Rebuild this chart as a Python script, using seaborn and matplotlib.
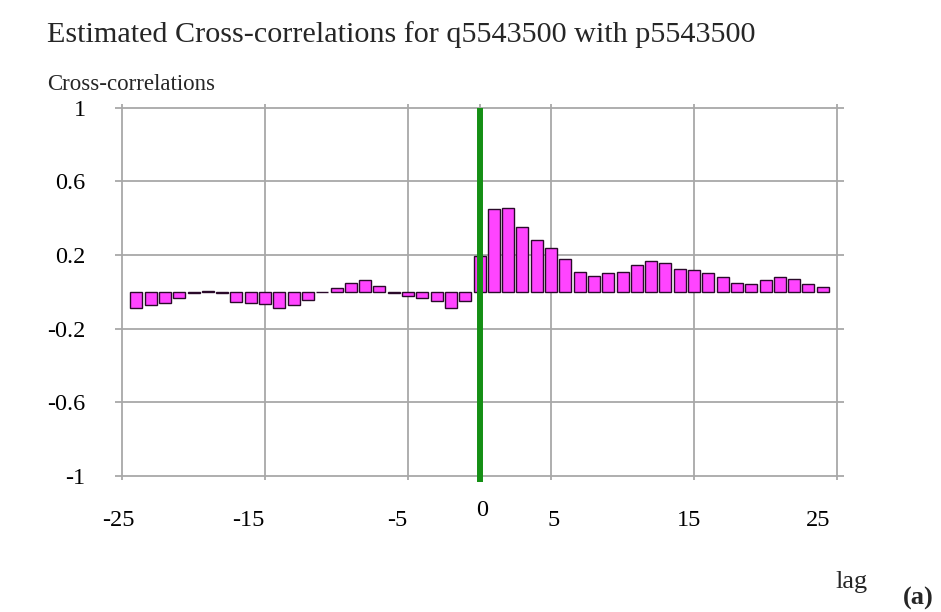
import numpy as np
import matplotlib
matplotlib.use("Agg")
import matplotlib.pyplot as plt
import matplotlib.transforms as mtransforms
import seaborn as sns

# Cross-correlation estimates by lag
lags = list(range(-24, 25))
ccf_negative = [-0.088, -0.072, -0.061, -0.035, -0.008, 0.005, -0.005, -0.054,
                -0.061, -0.068, -0.085, -0.072, -0.043, 0.0, 0.02, 0.046,
                0.062, 0.031, -0.005, -0.023, -0.035, -0.052, -0.088, -0.052]
ccf_positive = [0.193, 0.45, 0.458, 0.35, 0.28, 0.24, 0.18, 0.11, 0.087, 0.10,
                0.11, 0.147, 0.17, 0.155, 0.123, 0.118, 0.105, 0.08, 0.05,
                0.045, 0.063, 0.08, 0.069, 0.045, 0.027]
ccf = ccf_negative + ccf_positive

x_ticks = [-25, -15, -5, 0, 5, 15, 25]
x_tick_labels = ["-25", "-15", "-5", "0", "5", "15", "25"]
y_ticks = [-1, -0.6, -0.2, 0.2, 0.6, 1]
y_tick_labels = ["-1", "-0.6", "-0.2", "0.2", "0.6", "1"]

sns.set_theme(style="white")
plt.rcParams["font.family"] = ["Liberation Serif", "DejaVu Serif"]

fig = plt.figure(figsize=(9.41, 6.12), dpi=100)
ax = fig.add_axes([0.1221, 0.2162, 0.8971 - 0.1221, 0.830 - 0.2162])

sns.barplot(x=lags, y=ccf, native_scale=True, color="#ff44ff", saturation=1,
            edgecolor="#2a0a2a", linewidth=1.0, width=0.84, errorbar=None,
            ax=ax, zorder=3)

# zero-lag reference line
ax.plot([0, 0], [-1.035, 1.0], color="#148f14", lw=4.3, zorder=5,
        clip_on=False, solid_capstyle="butt")

ax.set_xlim(-25.5, 25.5)
ax.set_ylim(-1.02, 1.02)
ax.set_xticks(x_ticks)
ax.set_xticklabels(x_tick_labels, fontsize=17.5)
ax.set_yticks(y_ticks)
ax.set_yticklabels(y_tick_labels, fontsize=17.5)
ax.set_xlabel("")
ax.set_ylabel("")
for s in ax.spines.values():
    s.set_visible(False)
ax.grid(True, color="#a8a8a8", lw=1.3, zorder=0)
ax.set_axisbelow(True)
ax.tick_params(axis="both", length=0, colors="black")
ax.tick_params(axis="x", pad=22)
ax.tick_params(axis="y", pad=21)

# irregular horizontal placement of the lag labels (pixel shifts)
label_shift = [(-4, 0), (-17, 0), (-11, 0), (3, 10), (2.5, 0), (-5, 0), (-18.5, 0)]
for lab, (dx, dy) in zip(ax.get_xticklabels(), label_shift):
    off = mtransforms.ScaledTranslation(dx / 100, dy / 100, fig.dpi_scale_trans)
    lab.set_transform(lab.get_transform() + off)

fig.text(47 / 941, 1 - 35 / 612,
         "Estimated Cross-correlations for q5543500 with p5543500",
         fontsize=21.7, ha="left", va="center")
fig.text(47 / 941, 1 - 85 / 612, "Cross-correlations", fontsize=16.5,
         ha="left", va="center")
fig.text(835 / 941, 1 - 582 / 612, "lag", fontsize=19, ha="left", va="center")
fig.text(903 / 941, 1 - 598 / 612, "(a)", fontsize=19, fontweight="bold",
         ha="left", va="center")

fig.savefig("out.png", dpi=100)
